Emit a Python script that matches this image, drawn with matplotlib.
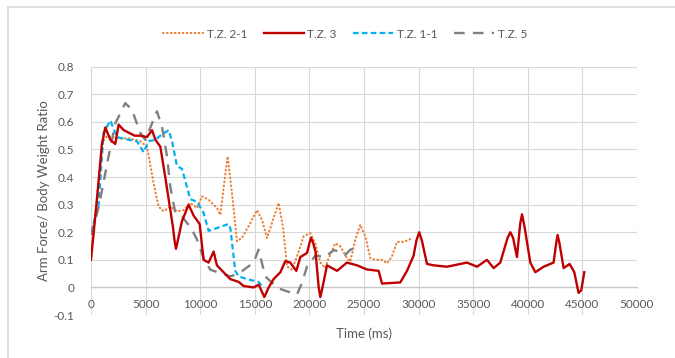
import matplotlib
matplotlib.use("Agg")
import matplotlib.pyplot as plt
from matplotlib.lines import Line2D

plt.rcParams['font.family'] = ['Lato', 'DejaVu Sans']

# ---- data ----
tz21_time = [0, 600, 1100, 1500, 2500, 3500, 4500, 5130, 5730, 6190, 6650, 7260, 7870, 8480,
             9090, 9710, 10160, 10770, 11530, 11840, 12200, 12510, 12910, 13370, 13830, 14590,
             15200, 15660, 16120, 16570, 17180, 17580, 17950, 18400, 18860, 19470, 20080, 20540,
             21000, 21450, 21760, 22370, 22830, 23440, 23750, 24200, 24660, 25120, 25580, 26030,
             26650, 27110, 27560, 28020, 28630, 29240]
tz21_val = [0.12, 0.35, 0.53, 0.55, 0.54, 0.54, 0.53, 0.51, 0.378, 0.293, 0.276, 0.293, 0.276, 0.28,
            0.306, 0.288, 0.33, 0.318, 0.288, 0.263, 0.378, 0.475, 0.342, 0.167, 0.18, 0.233,
            0.28, 0.245, 0.179, 0.233, 0.306, 0.22, 0.076, 0.064, 0.112, 0.185, 0.197, 0.16,
            0.09, 0.07, 0.106, 0.16, 0.149, 0.106, 0.094, 0.173, 0.227, 0.185, 0.106, 0.1,
            0.1, 0.088, 0.112, 0.165, 0.165, 0.175]

tz3_time = [0, 500, 1000, 1310, 1770, 2220, 2530, 3000, 3500, 4000, 4500, 5130, 5590, 5900, 6350,
            6800, 7110, 7500, 7650, 7780, 7950, 8330, 8940, 9400, 9950, 10310, 10770, 11230, 11530,
            12140, 12760, 13520, 13980, 14900, 15350, 15700, 15870, 16050, 16270, 16720, 17340,
            17790, 18250, 18800, 19170, 19780, 20000, 20150, 20350, 20560, 20850, 21000, 21200,
            21610, 22530, 23440, 24360, 25270, 26340, 26650, 28320, 28940, 29540, 29800, 30060,
            30300, 30770, 31380, 32600, 33210, 34430, 35350, 36260, 36870, 37480, 38150, 38400,
            38650, 39010, 39300, 39470, 39700, 40230, 40690, 41450, 42360, 42600, 42730, 42900,
            43280, 43830, 44260, 44650, 44900, 45170]
tz3_val = [0.10, 0.30, 0.52, 0.58, 0.535, 0.52, 0.59, 0.57, 0.56, 0.55, 0.55, 0.545, 0.57, 0.535, 0.51,
           0.40, 0.32, 0.22, 0.17, 0.14, 0.17, 0.24, 0.30, 0.26, 0.23, 0.10, 0.09, 0.13, 0.08,
           0.055, 0.03, 0.02, 0.005, 0.0, 0.01, -0.02, -0.035, -0.02, 0.0, 0.03, 0.055,
           0.095, 0.09, 0.06, 0.11, 0.125, 0.16, 0.18, 0.16, 0.13, 0.0, -0.035, 0.0,
           0.08, 0.06, 0.09, 0.08, 0.065, 0.06, 0.014, 0.018, 0.06, 0.115, 0.17, 0.20,
           0.17, 0.085, 0.08, 0.075, 0.08, 0.09, 0.075, 0.10, 0.07, 0.09, 0.18, 0.20,
           0.18, 0.11, 0.23, 0.265, 0.22, 0.09, 0.055, 0.075, 0.09, 0.16, 0.19, 0.16,
           0.07, 0.085, 0.055, -0.02, -0.01, 0.055]

tz11_time = [0, 700, 1150, 1770, 2380, 3450, 4210, 4820, 5280, 5900, 6350, 7110, 7420, 7870, 8330,
             9090, 9710, 10310, 10770, 11530, 12600, 12760, 13210, 13520, 14290, 15350, 15660]
tz11_val = [0.20, 0.30, 0.56, 0.605, 0.545, 0.535, 0.53, 0.49, 0.53, 0.535, 0.55, 0.57, 0.53, 0.44, 0.43,
            0.32, 0.31, 0.27, 0.205, 0.215, 0.23, 0.215, 0.06, 0.04, 0.03, 0.02, 0.005]

tz5_time = [0, 700, 1610, 2230, 3140, 3750, 4510, 4970, 5590, 6040, 6500, 6960, 7260, 7720, 8330,
            8790, 9250, 9710, 10310, 10930, 11840, 12760, 13520, 14890, 15350, 15960, 17030, 17490,
            18400, 18860, 19320, 19780, 20540, 21450, 22220, 22830, 23290, 23750, 24200]
tz5_val = [0.19, 0.29, 0.475, 0.595, 0.668, 0.644, 0.56, 0.535, 0.595, 0.638, 0.583, 0.475, 0.366, 0.27, 0.257,
           0.234, 0.209, 0.173, 0.106, 0.064, 0.052, 0.04, 0.05, 0.09, 0.137, 0.04, 0.0, -0.008,
           -0.02, -0.026, 0.016, 0.076, 0.115, 0.11, 0.135, 0.13, 0.118, 0.137, 0.14]

series_labels = ["T.Z. 2-1", "T.Z. 3", "T.Z. 1-1", "T.Z. 5"]
x_ticks = [0, 5000, 10000, 15000, 20000, 25000, 30000, 35000, 40000, 45000, 50000]
y_ticks = [-0.1, 0, 0.1, 0.2, 0.3, 0.4, 0.5, 0.6, 0.7, 0.8]
y_tick_labels = ["-0.1", "0", "0.1", "0.2", "0.3", "0.4", "0.5", "0.6", "0.7", "0.8"]

# ---- figure ----
W, H = 675, 358
fig = plt.figure(figsize=(W / 100, H / 100), dpi=100)
ax = fig.add_axes([91 / W, 1 - 315 / H, (637 - 91) / W, (315 - 66.7) / H])

c_or, c_red, c_blue, c_gray = "#ED7D31", "#C00000", "#00B0F0", "#808080"
txt = "#595959"

l1, = ax.plot(tz21_time, tz21_val, color=c_or, lw=1.5, linestyle=(0, (0.3, 1.6)),
              dash_capstyle='round', zorder=3)
l3, = ax.plot(tz11_time, tz11_val, color=c_blue, lw=1.6, linestyle=(0, (2.5, 1.5)), zorder=4)
l4, = ax.plot(tz5_time, tz5_val, color=c_gray, lw=1.7, linestyle=(0, (4.5, 3.5)), zorder=5)
l2, = ax.plot(tz3_time, tz3_val, color=c_red, lw=1.7, zorder=6)

ax.set_xlim(0, 50000)
ax.set_ylim(-0.1, 0.8)
ax.set_xticks(x_ticks)
ax.set_xticklabels([str(v) for v in x_ticks])
ax.set_yticks(y_ticks)
ax.set_yticklabels(y_tick_labels)
ax.grid(True, color="#D9D9D9", lw=0.8)
ax.set_axisbelow(True)
for s in ['top', 'right', 'left']:
    ax.spines[s].set_visible(False)
ax.spines['bottom'].set_position(('data', 0))
ax.spines['bottom'].set_color("#C8C8C8")
ax.spines['bottom'].set_linewidth(1.0)
ax.tick_params(axis='both', length=0, colors=txt, labelsize=8.5)
ax.tick_params(axis='x', pad=8)
ax.tick_params(axis='y', pad=12)

ax.set_xlabel("Time (ms)", color=txt, fontsize=9.5)
ax.xaxis.set_label_coords(0.5, -0.05)
ax.set_ylabel("Arm Force/ Body Weight Ratio", color=txt, fontsize=9.5)
ax.yaxis.set_label_coords(-0.075, 0.5)

leg = fig.legend([l1, l2, l3, l4], series_labels, loc='center', bbox_to_anchor=(345 / W, 1 - 34 / H),
                 ncol=4, frameon=False, fontsize=8.5, handlelength=3.4, handletextpad=0.3,
                 columnspacing=1.4, labelcolor=txt)

# chart area border (top and left visible)
fig.add_artist(Line2D([8 / W, 1], [1 - 6.5 / H, 1 - 6.5 / H], color="#D9D9D9", lw=1.2))
fig.add_artist(Line2D([8 / W, 8 / W], [0, 1 - 6.5 / H], color="#D9D9D9", lw=1.2))

fig.savefig("out.png", dpi=100)
